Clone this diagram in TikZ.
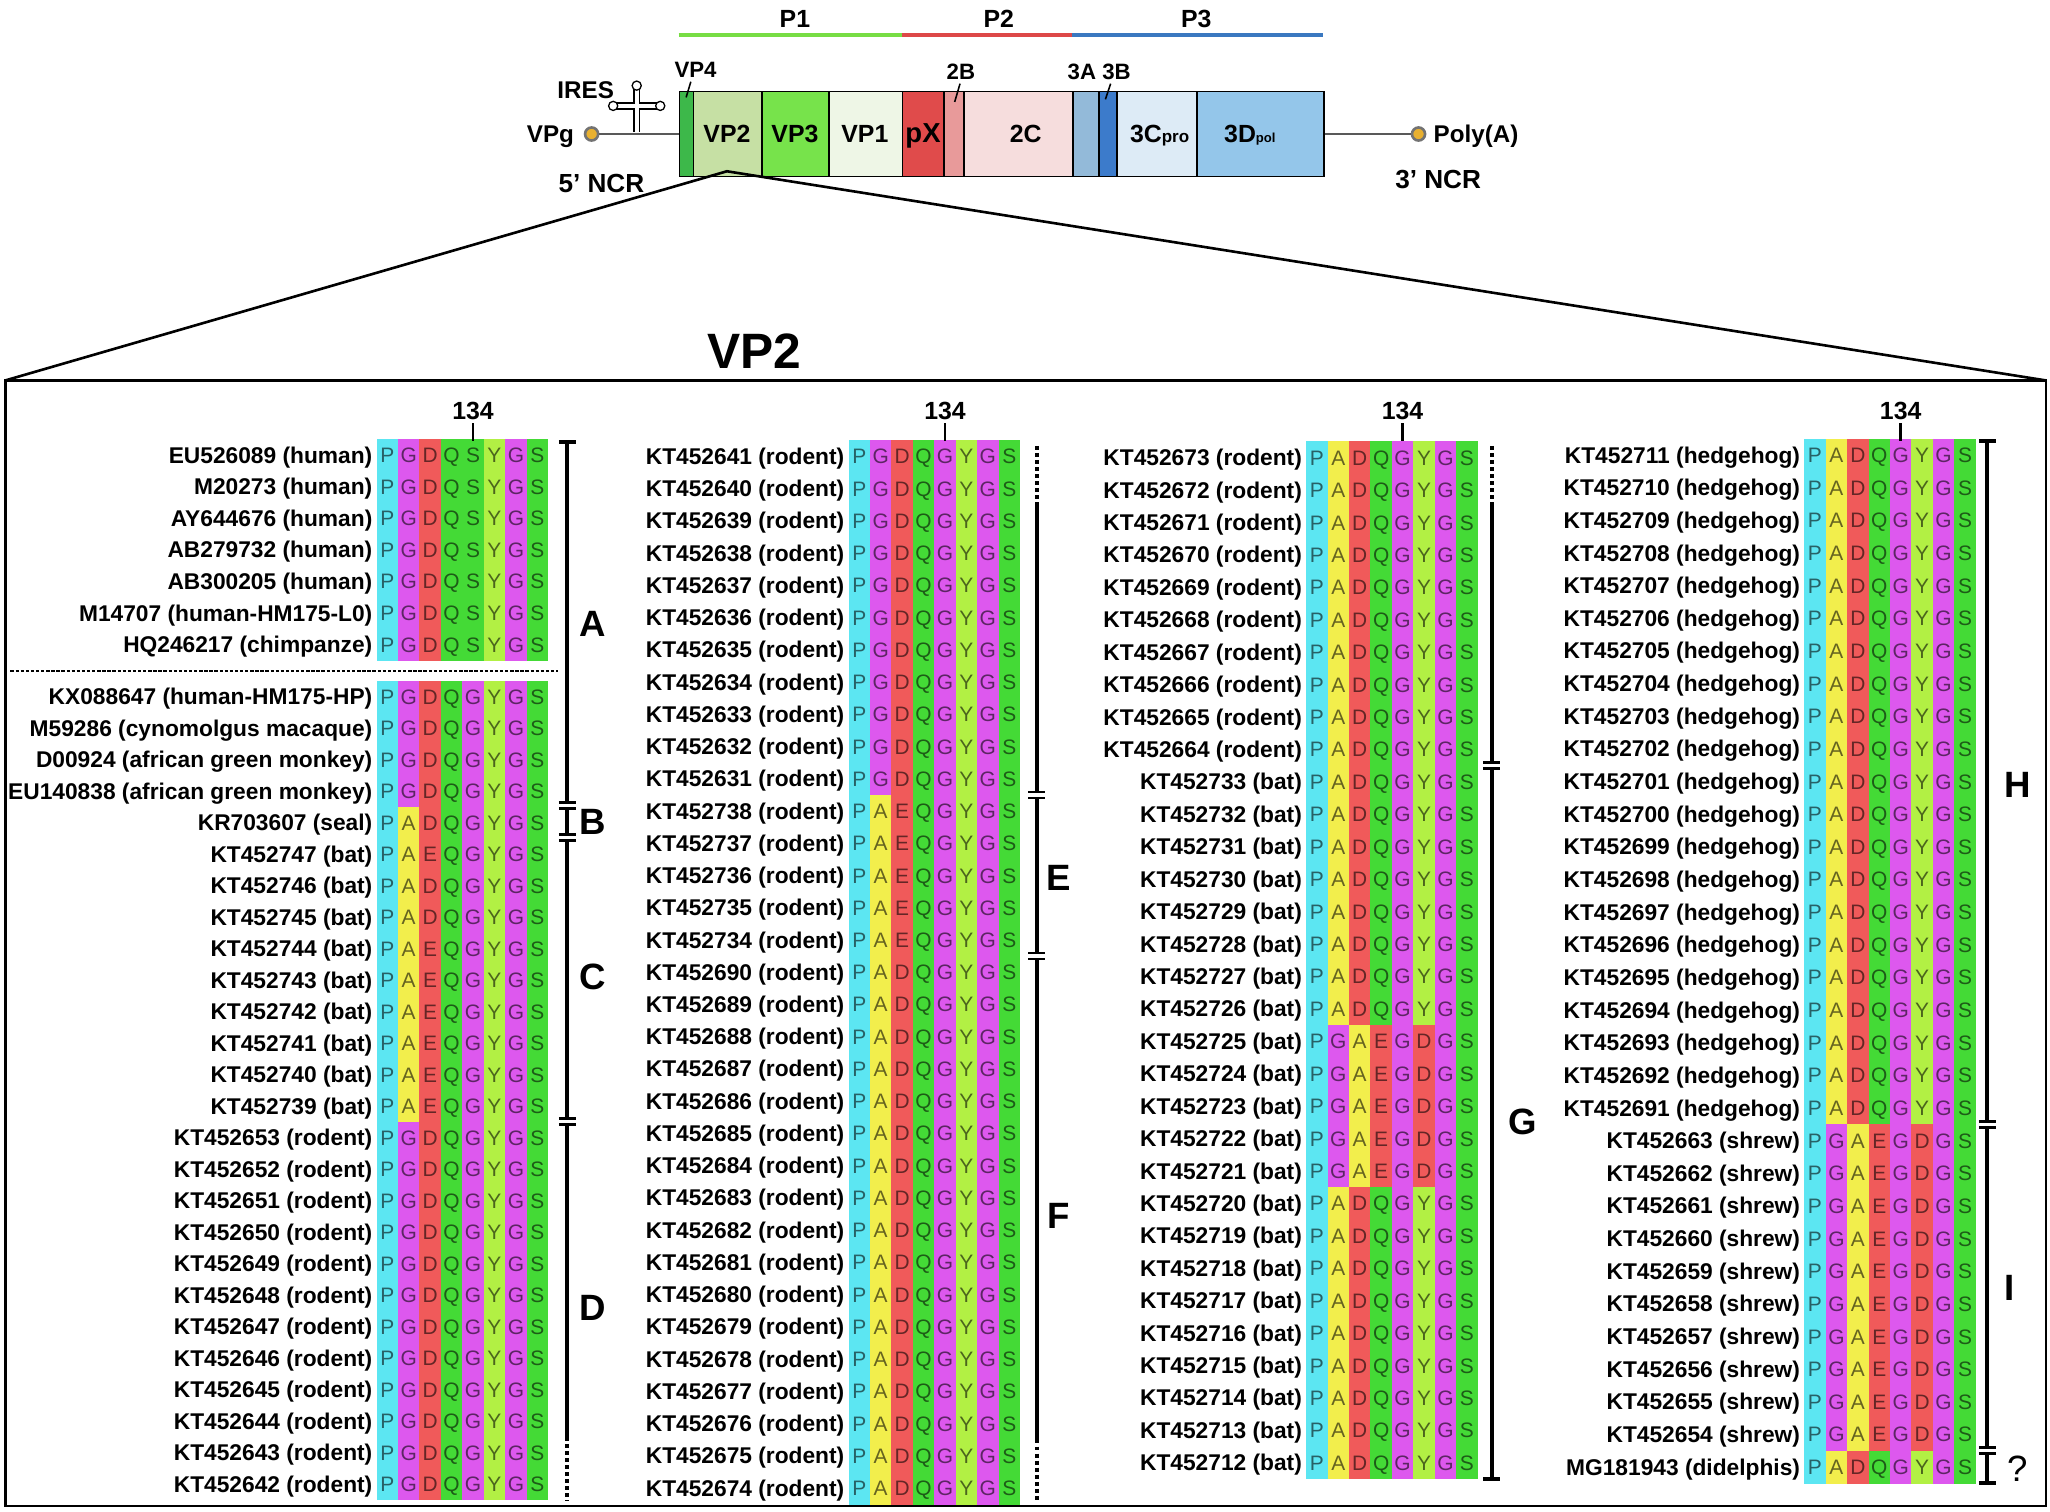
\documentclass[tikz,border=0pt]{standalone}
\usepackage{fontspec}
\setmainfont{Liberation Sans}
\definecolor{cP}{HTML}{5CE6F2}
\definecolor{cG}{HTML}{DD58EE}
\definecolor{cD}{HTML}{F05A5A}
\definecolor{cE}{HTML}{F05A5A}
\definecolor{cQ}{HTML}{44DA36}
\definecolor{cS}{HTML}{44DA36}
\definecolor{cY}{HTML}{B2F044}
\definecolor{cA}{HTML}{F2EE4C}
\definecolor{mVPf}{HTML}{3DB84A}
\definecolor{mVPt}{HTML}{C6E0A4}
\definecolor{mVPh}{HTML}{77E34B}
\definecolor{mVPo}{HTML}{EEF6E6}
\definecolor{mPX}{HTML}{E04B4B}
\definecolor{mTB}{HTML}{E89A9A}
\definecolor{mTC}{HTML}{F6DDDD}
\definecolor{mHA}{HTML}{93BAD9}
\definecolor{mHB}{HTML}{3C7BCB}
\definecolor{mHC}{HTML}{DDEBF6}
\definecolor{mHD}{HTML}{94C6EA}
\definecolor{barG}{HTML}{77DD44}
\definecolor{barR}{HTML}{DD4848}
\definecolor{barB}{HTML}{3A78C0}
\definecolor{ringin}{HTML}{E8B030}
\def\seqa{P,G,D,Q,S,Y,G,S}
\def\seqb{P,G,D,Q,G,Y,G,S}
\def\seqc{P,A,D,Q,G,Y,G,S}
\def\seqd{P,A,E,Q,G,Y,G,S}
\def\seqe{P,G,A,E,G,D,G,S}
\def\cw{16.4}
\newcommand\arow[6]{%
  \node[lab] (#1) at ({#2-3},{#3+6.2}) {#5};%
  \edef\cur{\csname seq#6\endcsname}%
  \foreach \rr [count=\j] in \cur {%
    \fill[fill=c\rr] ({#2+(\j-1)*\cw},{#3-#4/2}) rectangle ({#2+\j*\cw+0.3},{#3+#4/2+0.3});%
    \node[res,text=c\rr!42!black] (#1-\j) at ({#2+(\j-0.5)*\cw},{#3+5.8}) {\rr};%
  }%
}
\newcommand\brkmark[2]{\draw[line width=2] ({#1-6.5},{#2-2.3}) -- ({#1+6.5},{#2-2.3}) ({#1-6.5},{#2+2.3}) -- ({#1+6.5},{#2+2.3});}
\begin{document}
\begin{tikzpicture}[x=1pt,y=-1pt,
  lab/.style={font=\fontsize{17.4}{20}\selectfont\bfseries, inner sep=0pt, anchor=base east},
  res/.style={font=\fontsize{16}{18}\selectfont, inner sep=0pt, anchor=base},
  numlab/.style={font=\fontsize{19}{22}\selectfont\bfseries, inner sep=0pt, anchor=base},
  grp/.style={font=\fontsize{28}{30}\selectfont\bfseries, inner sep=0pt, anchor=base},
  mlab/.style={font=\fontsize{18.5}{20}\selectfont\bfseries, inner sep=0pt, anchor=base},
  slab/.style={font=\fontsize{17}{20}\selectfont\bfseries, inner sep=0pt, anchor=base},
  seg/.style={draw, line width=1.2, minimum height=65, inner sep=0pt, anchor=west},
  brk/.style={line width=3},
  brkdot/.style={line width=3, dash pattern=on 3pt off 2.4pt},
  tickline/.style={line width=2}]
\useasboundingbox (0,0) rectangle (1568,1156);
% ---------------- genome map ----------------
\node[mlab,font=\fontsize{19}{22}\selectfont\bfseries] (pone) at (608,20.8) {P1};
\node[mlab,font=\fontsize{19}{22}\selectfont\bfseries] (ptwo) at (764,20.8) {P2};
\node[mlab,font=\fontsize{19}{22}\selectfont\bfseries] (pthree) at (915,20.8) {P3};
\draw[line width=3,barG] (519,27) -- (690,27);
\draw[line width=3,barR] (690,27) -- (820,27);
\draw[line width=3,barB] (820,27) -- (1012,27);
\foreach \a/\b/\nm/\col in {519/530/vpfour/mVPf, 530/582.2/vptwo/mVPt, 582.2/633.4/vpthree/mVPh, 633.4/689.7/vpone/mVPo, 689.7/721.5/px/mPX, 721.5/736.8/twob/mTB, 736.8/820.3/twoc/mTC, 820.3/839.8/threea/mHA, 839.8/853.6/threeb/mHB, 853.6/915.1/threec/mHC, 915.1/1012/threed/mHD}{%
  \pgfmathsetmacro\ww{\b-\a}
  \node[seg, fill=\col, minimum width=\ww] (\nm) at (\a,102.5) {};
}
\node[slab,font=\fontsize{19}{22}\selectfont\bfseries] (lvptwo) at (556,108.8) {VP2};
\node[slab,font=\fontsize{19}{22}\selectfont\bfseries] (lvpthree) at (608,108.8) {VP3};
\node[slab,font=\fontsize{19}{22}\selectfont\bfseries] (lvpone) at (661.5,108.8) {VP1};
\node[slab,font=\fontsize{21}{22}\selectfont\bfseries] (lpx) at (706,108.8) {pX};
\node[slab,font=\fontsize{19}{22}\selectfont\bfseries] (ltwoc) at (784.5,108.8) {2C};
\node[slab,font=\fontsize{19}{22}\selectfont\bfseries] (lthreec) at (887,108.8) {3C{\fontsize{13}{13}\selectfont pro}};
\node[slab,font=\fontsize{19}{22}\selectfont\bfseries] (lthreed) at (956,108.8) {3D{\fontsize{10}{10}\selectfont\raisebox{-0.5pt}{pol}}};
\node[slab] (lvpfour) at (532,59.5) {VP4};
\node[slab] (ltwob) at (735,61) {2B};
\node[slab] (lthreea) at (827.5,61) {3A};
\node[slab] (lthreeb) at (854,61) {3B};
\draw[line width=1.2] (528.4,62.5) -- (524.8,74.5);
\draw[line width=1.2] (734.3,64) -- (730.2,78);
\draw[line width=1.2] (849.5,64) -- (845.5,76);
\node[mlab] (lires) at (448,75.5) {IRES};
\node[mlab] (lvpg) at (421,108.7) {VPg};
\node[circle, fill=ringin, draw=gray!90!black, line width=2, minimum size=10, inner sep=0pt] (vpg) at (452.5,102.5) {};
\node[circle, fill=ringin, draw=gray!90!black, line width=2, minimum size=10, inner sep=0pt] (polya) at (1085,102.5) {};
\draw[gray!70!black, line width=1.3] (vpg) -- (vpfour.west);
\draw[gray!70!black, line width=1.3] (threed.east) -- (polya);
\node[mlab] (lpolya) at (1129,108.7) {Poly(A)};
\node[mlab,font=\fontsize{20}{22}\selectfont\bfseries] (lfive) at (460,147.2) {5’ NCR};
\node[mlab,font=\fontsize{20}{22}\selectfont\bfseries] (lthree) at (1100,144.2) {3’ NCR};
% IRES cross
\draw[line width=5.6] (487,67) -- (487,101) (470,81) -- (504,81);
\draw[line width=3,white] (487,67.5) -- (487,101) (470.5,81) -- (503.5,81);
\foreach \px/\py/\nm in {487/65.5/irt,469/81/irl,505/81/irr}{\node[circle,draw,fill=white,line width=1,minimum size=7,inner sep=0pt] (\nm) at (\px,\py) {};}
% ---------------- zoom lines and frame ----------------
\coordinate (apex) at (556,131);
\coordinate (fl) at (4,291);
\coordinate (fr) at (1565,291);
\coordinate (fbr) at (1565,1152);
\draw[line width=2] (fl) -- (apex) -- (fr);
\draw[line width=2] (fl) rectangle (fbr);
\node[font=\fontsize{38}{40}\selectfont\bfseries, inner sep=0pt, anchor=base] (vptitle) at (577,281.6) {VP2};
% ---------------- column 1 ----------------
\foreach \lab [count=\k from 0] in {EU526089 (human),M20273 (human),AY644676 (human),AB279732 (human),AB300205 (human),M14707 (human-HM175-L0),HQ246217 (chimpanze)}{%
  \pgfmathsetmacro\yy{348+\k*24.17}\arow{ca\k}{288}{\yy}{24.17}{\lab}{a}}
\foreach \lab/\sq [count=\k from 0] in {KX088647 (human-HM175-HP)/b,M59286 (cynomolgus macaque)/b,D00924 (african green monkey)/b,EU140838 (african green monkey)/b,KR703607 (seal)/c,KT452747 (bat)/d,KT452746 (bat)/c,KT452745 (bat)/c,KT452744 (bat)/d,KT452743 (bat)/d,KT452742 (bat)/d,KT452741 (bat)/d,KT452740 (bat)/d,KT452739 (bat)/d}{%
  \pgfmathsetmacro\yy{533+\k*24.08}\arow{cb\k}{288}{\yy}{24.08}{\lab}{\sq}}
\foreach \n [count=\k from 14] in {653,652,...,642}{%
  \pgfmathsetmacro\yy{533+\k*24.08}\arow{cb\k}{288}{\yy}{24.08}{KT452\n\ (rodent)}{b}}
\draw[line width=1.4, dash pattern=on 2.6pt off 1.3pt] (8,513) -- (427,513);
% ---------------- column 2 ----------------
\foreach \n [count=\k from 0] in {641,640,...,631}{%
  \pgfmathsetmacro\yy{349+\k*24.66}\arow{cc\k}{649}{\yy}{24.66}{KT452\n\ (rodent)}{b}}
\foreach \n [count=\k from 11] in {738,737,...,734}{%
  \pgfmathsetmacro\yy{349+\k*24.66}\arow{cc\k}{649}{\yy}{24.66}{KT452\n\ (rodent)}{d}}
\foreach \n [count=\k from 16] in {690,689,...,674}{%
  \pgfmathsetmacro\yy{349+\k*24.66}\arow{cc\k}{649}{\yy}{24.66}{KT452\n\ (rodent)}{c}}
% ---------------- column 3 ----------------
\foreach \n [count=\k from 0] in {673,672,...,664}{%
  \pgfmathsetmacro\yy{350+\k*24.8}\arow{cd\k}{999}{\yy}{24.8}{KT452\n\ (rodent)}{c}}
\foreach \n [count=\k from 10] in {733,732,...,726}{%
  \pgfmathsetmacro\yy{350+\k*24.8}\arow{cd\k}{999}{\yy}{24.8}{KT452\n\ (bat)}{c}}
\foreach \n [count=\k from 18] in {725,724,...,721}{%
  \pgfmathsetmacro\yy{350+\k*24.8}\arow{cd\k}{999}{\yy}{24.8}{KT452\n\ (bat)}{e}}
\foreach \n [count=\k from 23] in {720,719,...,712}{%
  \pgfmathsetmacro\yy{350+\k*24.8}\arow{cd\k}{999}{\yy}{24.8}{KT452\n\ (bat)}{c}}
% ---------------- column 4 ----------------
\foreach \n [count=\k from 0] in {711,710,...,691}{%
  \pgfmathsetmacro\yy{348+\k*24.97}\arow{ce\k}{1380}{\yy}{24.97}{KT452\n\ (hedgehog)}{c}}
\foreach \n [count=\k from 21] in {663,662,...,654}{%
  \pgfmathsetmacro\yy{348+\k*24.97}\arow{ce\k}{1380}{\yy}{24.97}{KT452\n\ (shrew)}{e}}
\pgfmathsetmacro\yy{348+31*24.97}\arow{ce31}{1380}{\yy}{24.97}{MG181943 (didelphis)}{c}
% ---------------- position 134 ----------------
\foreach \xx/\nm in {361.8/na,722.8/nb,1072.8/nc,1453.8/nd}{%
  \node[numlab] (\nm) at (\xx,320.8) {134};
  \draw[tickline] (\nm.south) ++(0,2.5) -- (\xx,337);
}
% ---------------- brackets ----------------
% column 1
\draw[brk] (427.5,338) -- (440.5,338);
\draw[brk] (434,338) -- (434,614);
\brkmark{434}{616.3}
\draw[brk] (434,618.6) -- (434,638.1);
\brkmark{434}{640.4}
\draw[brk] (434,642.7) -- (434,855.7);
\brkmark{434}{858}
\draw[brk] (434,860.3) -- (434,1099);
\draw[brkdot] (434,1099) -- (434,1148);
% column 2
\draw[brkdot] (793,341) -- (793,386);
\draw[brk] (793,386) -- (793,605.7);
\brkmark{793}{608}
\draw[brk] (793,610.3) -- (793,728.9);
\brkmark{793}{731.2}
\draw[brk] (793,733.5) -- (793,1101);
\draw[brkdot] (793,1101) -- (793,1149);
% column 3
\draw[brkdot] (1141,341) -- (1141,387.2);
\draw[brk] (1141,387.2) -- (1141,583.3);
\brkmark{1141}{585.6}
\draw[brk] (1141,587.9) -- (1141,1131);
\draw[brk] (1134.5,1131) -- (1147.5,1131);
% column 4
\draw[brk] (1513.5,337) -- (1526.5,337);
\draw[brk] (1520,337) -- (1520,857.7);
\brkmark{1520}{860}
\draw[brk] (1520,862.3) -- (1520,1107.3);
\brkmark{1520}{1109.6}
\draw[brk] (1520,1111.9) -- (1520,1134.6);
\draw[brk] (1513.5,1134.6) -- (1526.5,1134.6);
% group letters
\node[grp] (gA) at (453,487) {A};
\node[grp] (gB) at (453,638) {B};
\node[grp] (gC) at (453,757) {C};
\node[grp] (gD) at (453,1010) {D};
\node[grp] (gE) at (810,681) {E};
\node[grp] (gF) at (810,940) {F};
\node[grp] (gG) at (1165,868) {G};
\node[grp] (gH) at (1543,610) {H};
\node[grp] (gI) at (1537,995) {I};
\node[grp,font=\fontsize{28}{30}\selectfont] (gQ) at (1543,1133) {?};
\end{tikzpicture}
\end{document}
